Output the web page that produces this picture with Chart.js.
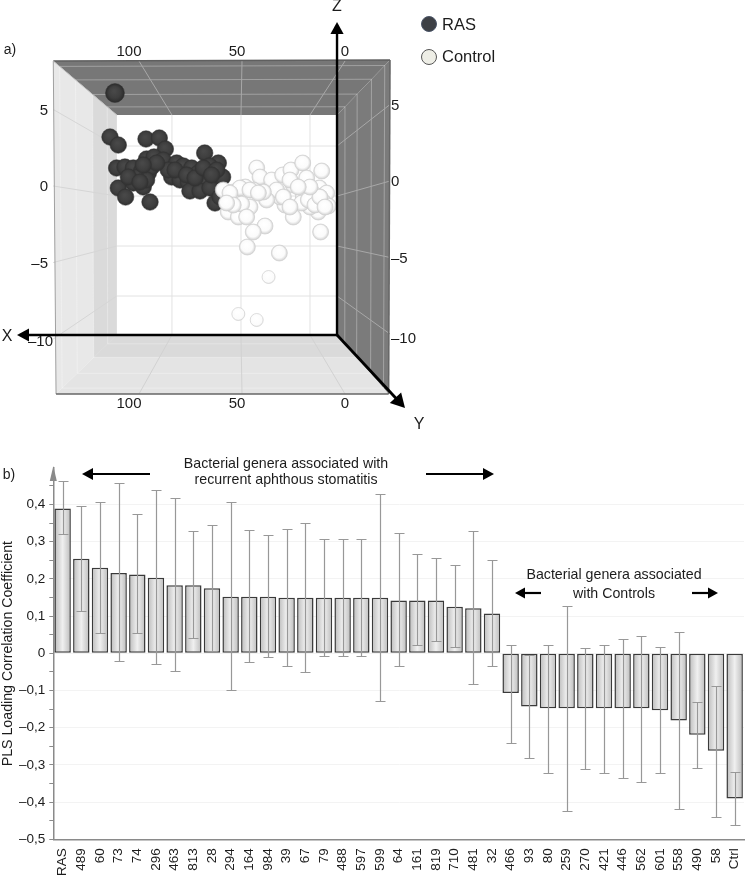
<!DOCTYPE html>
<html>
<head>
<meta charset="utf-8">
<script src="https://cdn.jsdelivr.net/npm/chart.js@4/dist/chart.umd.min.js"></script>
<style>
  html, body { margin: 0; padding: 0; background: #fff; overflow: hidden; }
  canvas { position: absolute; left: 0; }
  #scatter { top: 0; }
  #bars { top: 440px; }
</style>
</head>
<body>
<canvas id="scatter" width="745" height="440"></canvas>
<canvas id="bars" width="745" height="438"></canvas>
<script>
// a) score plot, values read against the back wall of the box
const rasX = [141.3, 144.9, 138.9, 118.8, 109.2, 104.8, 76.3, 66.4, 72.9, 140.1, 134.1, 128, 122, 117.1, 118.4, 113, 106.3, 96.6, 91.8, 85.7, 80.9, 77.3, 70, 63.3, 100.2, 94.2, 88.2, 82.1, 74.9, 128, 120.8, 138.9, 133.6, 115.9, 87, 79.7, 72.5, 68.8, 65.2, 124.4, 131.6, 114.7, 102.7, 97.8, 89.4, 83.3, 77.3, 67.6, 71.3, 118.4, 123.2, 111.1, 120.8];
const rasZ = [10.3, 5.9, 5.1, 5.7, 5.8, 4.7, 4.3, 3.3, 3, 2.8, 2.9, 2.8, 2.5, 2.3, 3.7, 3.9, 3.6, 3.3, 3, 2.8, 2.3, 1.9, 1.9, 1.9, 1.9, 1.6, 1.4, 1.3, 1.3, 1.3, 0.9, 0.8, -0.1, -0.6, 0.5, 0.5, 0.8, -0.7, -0.1, 1.9, 1.9, 2.9, 2.6, 2.6, 2.1, 1.8, 2.8, 2.6, 2.1, 1.6, 1.4, 3.3, 3.1];
const ctrlX = [38.6, 36.2, 27.8, 19.8, 13.8, 5.3, -8.5, 2.4, 12.1, -6.8, -12.1, -9.7, -13.3, -6, 0, 4.8, -3.6, 6, 12.1, -7.7, 18.1, 21.7, 24.2, 31.4, 33.8, 41.1, 46.9, 55.6, 62.8, 56.8, 59.2, 51.9, 43.5, 32.6, 41.1, 45.4, 22.2, 30, 51.9, 38.6, 50.7, 43.5, 37.4, 58, 49.5, 55.6, 60.4, 45.9, 14.5, 19.3, 14.5, 1.2, -3.6, -7.2, -10.9, 0, 8.5];
const ctrlZ = [2.8, 1.9, 1.6, 2.1, 2.6, 3.3, 2.5, 1.8, 1.1, 0.8, 0.3, -0.6, -1, -1.6, -1.1, -0.1, 0.1, -0.7, -2.1, -3.6, -0.9, -0.1, 0.6, -0.4, 0.4, 0.6, 0.9, 0.4, 0.6, -0.4, -1.6, -2.1, -1.1, -3, -3.6, -5.1, -5.7, -8.1, -11.8, -12.4, 0.8, 0.6, 0.3, 0.3, -0.8, -0.9, -0.7, -2.1, 1.6, -0.1, -1.1, -0.4, -0.9, -0.1, -1.1, 0.9, 0.9];
const xTicks = [0, 50, 100];
const zTicks = [5, 0, -5, -10];

// b) PLS loadings
const genera = ['RAS', '489', '60', '73', '74', '296', '463', '813', '28', '294', '164', '984', '39', '67', '79', '488', '597', '599', '64', '161', '819', '710', '481', '32', '466', '93', '80', '259', '270', '421', '446', '562', '601', '558', '490', '58', 'Ctrl'];
const loadings = [0.389, 0.254, 0.23, 0.216, 0.212, 0.203, 0.183, 0.183, 0.175, 0.152, 0.152, 0.152, 0.149, 0.149, 0.149, 0.149, 0.149, 0.149, 0.142, 0.142, 0.142, 0.125, 0.121, 0.107, -0.107, -0.143, -0.148, -0.148, -0.148, -0.148, -0.148, -0.148, -0.153, -0.181, -0.219, -0.262, -0.39];
const errHigh = [0.462, 0.397, 0.407, 0.458, 0.375, 0.44, 0.417, 0.329, 0.345, 0.406, 0.332, 0.318, 0.333, 0.35, 0.306, 0.306, 0.306, 0.427, 0.322, 0.268, 0.256, 0.236, 0.329, 0.252, 0.023, -0.004, 0.023, 0.126, 0.013, 0.023, 0.038, 0.047, 0.016, 0.056, -0.131, -0.088, -0.32];
const errLow = [0.321, 0.113, 0.055, -0.022, 0.054, -0.03, -0.048, 0.04, 0.007, -0.098, -0.024, -0.01, -0.033, -0.049, -0.006, -0.006, -0.006, -0.127, -0.034, 0.021, 0.032, 0.016, -0.082, -0.033, -0.24, -0.281, -0.321, -0.424, -0.312, -0.321, -0.335, -0.345, -0.323, -0.419, -0.308, -0.439, -0.462];

const FONT = '"Liberation Sans", Arial, sans-serif';
const fmt = (v) => String(Math.abs(v)).replace('.', ',');
const signed = (v) => (v < 0 ? '\u2013' : '') + fmt(v);

function arrow(ctx, x0, y0, x1, y1, color, w, head) {
  const a = Math.atan2(y1 - y0, x1 - x0);
  ctx.strokeStyle = color;
  ctx.fillStyle = color;
  ctx.lineWidth = w;
  ctx.beginPath();
  ctx.moveTo(x0, y0);
  ctx.lineTo(x1 - Math.cos(a) * head * 0.8, y1 - Math.sin(a) * head * 0.8);
  ctx.stroke();
  ctx.beginPath();
  ctx.moveTo(x1, y1);
  ctx.lineTo(x1 - Math.cos(a) * head - Math.sin(a) * head * 0.55, y1 - Math.sin(a) * head + Math.cos(a) * head * 0.55);
  ctx.lineTo(x1 - Math.cos(a) * head + Math.sin(a) * head * 0.55, y1 - Math.sin(a) * head - Math.cos(a) * head * 0.55);
  ctx.closePath();
  ctx.fill();
}

function label(ctx, text, x, y, size, align) {
  ctx.font = size + 'px ' + FONT;
  ctx.fillStyle = '#1c1c1c';
  ctx.textAlign = align || 'center';
  ctx.textBaseline = 'middle';
  ctx.fillText(text, x, y);
}

// box corners in the same units as the points
const backBox = { tl: [140, 8.1], tr: [-19.6, 8.1], br: [-19.6, -13.9], bl: [140, -13.9] };
const frontBox = { tl: [186, 13.5], tr: [-58, 13.6], br: [-57, -19.8], bl: [184, -19.8] };
const frontX = (x) => -25.4 + 1.493 * x;
const frontZ = (z) => 1 + 1.53 * z;

const boxPlugin = {
  id: 'box',
  beforeDatasetsDraw(chart) {
    const { ctx, scales } = chart;
    const px = (p) => [scales.x.getPixelForValue(p[0]), scales.y.getPixelForValue(p[1])];
    const lerpBox = (t, k) => [
      frontBox[k][0] + (backBox[k][0] - frontBox[k][0]) * t,
      frontBox[k][1] + (backBox[k][1] - frontBox[k][1]) * t,
    ];
    const poly = (pts, color) => {
      ctx.fillStyle = color;
      ctx.beginPath();
      pts.map(px).forEach((p, i) => (i ? ctx.lineTo(p[0], p[1]) : ctx.moveTo(p[0], p[1])));
      ctx.closePath();
      ctx.fill();
    };
    const seg = (a, b, color, w) => {
      const p = px(a);
      const q = px(b);
      ctx.strokeStyle = color;
      ctx.lineWidth = w || 1;
      ctx.beginPath();
      ctx.moveTo(p[0], p[1]);
      ctx.lineTo(q[0], q[1]);
      ctx.stroke();
    };
    ctx.save();
    poly([frontBox.tl, frontBox.tr, backBox.tr, backBox.tl], '#777777');
    poly([frontBox.tr, frontBox.br, backBox.br, backBox.tr], '#7b7b7b');
    poly([frontBox.tl, backBox.tl, backBox.bl, frontBox.bl], '#e8e8e8');
    poly([frontBox.bl, backBox.bl, backBox.br, frontBox.br], '#e4e4e4');
    // darker strip next to the back wall
    poly([lerpBox(0.62, 'tl'), backBox.tl, backBox.bl, lerpBox(0.62, 'bl')], '#dadada');
    poly([lerpBox(0.62, 'bl'), backBox.bl, backBox.br, lerpBox(0.62, 'br')], '#dadada');

    // depth rings on the walls
    [0.1, 0.35, 0.62, 0.85].forEach((t) => {
      const c = 'rgba(255,255,255,0.3)';
      seg(lerpBox(t, 'tl'), lerpBox(t, 'tr'), c);
      seg(lerpBox(t, 'tr'), lerpBox(t, 'br'), c);
      seg(lerpBox(t, 'br'), lerpBox(t, 'bl'), c);
      seg(lerpBox(t, 'bl'), lerpBox(t, 'tl'), c);
    });

    // grid on back wall and walls
    xTicks.forEach((x) => {
      seg([x, 8.1], [x, -13.9], '#e2e2e2');
      seg([x, 8.1], [frontX(x), 13.5], '#a8a8a8');
      seg([x, -13.9], [frontX(x), -19.8], '#d2d2d2');
    });
    zTicks.forEach((z) => {
      seg([140, z], [-19.6, z], '#e2e2e2');
      seg([140, z], [186, frontZ(z)], '#d6d6d6');
      seg([-19.6, z], [-58, frontZ(z) + 0.5], '#a8a8a8');
    });

    // frame edges
    seg(frontBox.tl, frontBox.tr, '#5f5f5f', 1.5);
    seg(frontBox.tl, frontBox.bl, '#a0a0a0', 1);
    seg(frontBox.bl, frontBox.br, '#666666', 1.5);
    seg(frontBox.tr, frontBox.br, '#666666', 1.5);
    seg(frontBox.tl, backBox.tl, '#bdbdbd', 1);
    ctx.restore();
  },
  afterDatasetsDraw(chart) {
    const { ctx, scales } = chart;
    const fx = (x) => scales.x.getPixelForValue(x);
    const fy = (z) => scales.y.getPixelForValue(z);
    ctx.save();
    const ox = fx(-19.6);
    const oy = fy(-13.9);
    arrow(ctx, ox, oy, ox, 22, '#000', 2.4, 12);
    arrow(ctx, ox, oy, 17, oy, '#000', 2.4, 12);
    arrow(ctx, ox, oy, 405, 408, '#000', 2.8, 14);
    label(ctx, 'Z', 337, 7, 16);
    label(ctx, 'X', 7, 337, 16);
    label(ctx, 'Y', 419, 425, 16);
    label(ctx, 'a)', 10, 50, 14);

    xTicks.forEach((x) => {
      const p = fx(frontX(x)) - x * 0.1;
      label(ctx, String(x), p, 52, 15);
      label(ctx, String(x), p, 404, 15);
    });
    zTicks.forEach((z) => {
      const v = fy(frontZ(z));
      const t = signed(z);
      label(ctx, t, z === -10 ? 53 : 48, z === -10 ? v + 3 : v + 1, 15, 'right');
      label(ctx, t, 391, z === -10 ? v : v - 4, 15, 'left');
    });

    // legend
    const dot = (y, fill, edge) => {
      ctx.beginPath();
      ctx.arc(429, y, 7.5, 0, Math.PI * 2);
      ctx.fillStyle = fill;
      ctx.fill();
      ctx.strokeStyle = edge;
      ctx.lineWidth = 1;
      ctx.stroke();
    };
    dot(24, '#3d4045', '#4b5568');
    dot(57, '#eeeee6', '#555555');
    label(ctx, 'RAS', 442, 25, 16.5, 'left');
    label(ctx, 'Control', 442, 57, 16.5, 'left');
    ctx.restore();
  },
};

function sphere(inner, mid, rim) {
  return (c) => {
    const el = c.element;
    if (!el || el.x === undefined || isNaN(el.x)) return mid;
    const r = 9;
    const g = c.chart.ctx.createRadialGradient(el.x - 1, el.y - 2, 1, el.x, el.y, r);
    g.addColorStop(0, inner);
    g.addColorStop(0.6, mid);
    g.addColorStop(1, rim);
    return g;
  };
}

new Chart(document.getElementById('scatter'), {
  type: 'scatter',
  plugins: [boxPlugin],
  data: {
    datasets: [
      {
        label: 'Control',
        data: ctrlX.map((x, i) => ({ x: x, y: ctrlZ[i] })),
        backgroundColor: sphere('#ffffff', '#fbfbfb', '#c4c4c4'),
        borderColor: '#cfcfcf',
        borderWidth: 0.7,
        pointRadius: (c) => (c.raw && c.raw.y < -7 ? 6.5 : 8),
      },
      {
        label: 'RAS',
        data: rasX.map((x, i) => ({ x: x, y: rasZ[i] })),
        backgroundColor: sphere('#484848', '#3e3e3e', '#2d2d2d'),
        borderColor: '#333333',
        borderWidth: 0.5,
        pointRadius: (c) => (c.raw && c.raw.y > 8 ? 9.5 : 8.3),
      },
    ],
  },
  options: {
    responsive: false,
    animation: false,
    layout: { padding: 0, autoPadding: false },
    plugins: { legend: { display: false }, tooltip: { enabled: false } },
    scales: {
      x: { type: 'linear', display: false, reverse: true, min: -315.2, max: 224.6 },
      y: { type: 'linear', display: false, min: -24.4, max: 19.6 },
    },
  },
});

const errorBars = {
  id: 'errorBars',
  afterDatasetsDraw(chart) {
    const { ctx, scales } = chart;
    ctx.save();
    ctx.strokeStyle = '#989898';
    ctx.lineWidth = 1.2;
    genera.forEach((g, i) => {
      const x = Math.round(scales.x.getPixelForValue(i)) + 0.5;
      const hi = Math.round(scales.y.getPixelForValue(errHigh[i])) + 0.5;
      const lo = Math.round(scales.y.getPixelForValue(errLow[i])) + 0.5;
      ctx.beginPath();
      ctx.moveTo(x, hi);
      ctx.lineTo(x, lo);
      ctx.moveTo(x - 5, hi);
      ctx.lineTo(x + 5, hi);
      ctx.moveTo(x - 5, lo);
      ctx.lineTo(x + 5, lo);
      ctx.stroke();
    });
    ctx.restore();
  },
};

const notes = {
  id: 'notes',
  afterDraw(chart) {
    const { ctx, chartArea } = chart;
    ctx.save();
    // axis arrow head
    ctx.fillStyle = '#8a8a8a';
    ctx.beginPath();
    ctx.moveTo(chartArea.left, 26);
    ctx.lineTo(chartArea.left - 3.5, 41);
    ctx.lineTo(chartArea.left + 3.5, 41);
    ctx.closePath();
    ctx.fill();

    label(ctx, 'b)', 9, 35, 14);
    label(ctx, 'Bacterial genera associated with', 286, 24, 14.2);
    label(ctx, 'recurrent aphthous stomatitis', 286, 40, 14.2);
    arrow(ctx, 150, 34, 82, 34, '#000', 2.2, 11);
    arrow(ctx, 426, 34, 494, 34, '#000', 2.2, 11);
    label(ctx, 'Bacterial genera associated', 614, 135, 14.2);
    label(ctx, 'with Controls', 614, 154, 14.2);
    arrow(ctx, 541, 153, 515, 153, '#000', 2.2, 10);
    arrow(ctx, 692, 153, 718, 153, '#000', 2.2, 10);
    ctx.restore();
  },
};

new Chart(document.getElementById('bars'), {
  type: 'bar',
  plugins: [errorBars, notes],
  data: {
    labels: genera,
    datasets: [{
      label: 'PLS Loading Correlation Coefficient',
      data: loadings,
      borderColor: '#3a3a3a',
      borderWidth: 1.5,
      borderSkipped: false,
      barPercentage: 0.88,
      categoryPercentage: 1,
      backgroundColor: (c) => {
        const { chartArea, scales } = c.chart;
        if (!chartArea) return '#dddddd';
        const x = scales.x.getPixelForValue(c.dataIndex);
        const g = c.chart.ctx.createLinearGradient(x - 8, 0, x + 8, 0);
        g.addColorStop(0, '#bdbdbd');
        g.addColorStop(0.5, '#f0f0f0');
        g.addColorStop(1, '#bdbdbd');
        return g;
      },
    }],
  },
  options: {
    responsive: false,
    animation: false,
    layout: { padding: { top: 28, right: 1, left: 0, bottom: 0 }, autoPadding: false },
    plugins: { legend: { display: false }, tooltip: { enabled: false } },
    scales: {
      x: {
        afterFit: (s) => {
          s.height = 38.7;
          s.paddingLeft = 0;
          s.paddingRight = 0;
        },
        grid: { display: false, drawTicks: true, tickLength: 4, tickColor: '#8a8a8a' },
        border: { color: '#8a8a8a', width: 1.5 },
        ticks: {
          autoSkip: false,
          maxRotation: 90,
          minRotation: 90,
          padding: 5,
          color: '#1c1c1c',
          font: { family: FONT, size: 13.5 },
        },
      },
      y: {
        min: -0.5,
        max: 0.498,
        afterFit: (s) => { s.width = 53.3; },
        title: {
          display: true,
          text: 'PLS Loading Correlation Coefficient',
          color: '#1c1c1c',
          font: { family: FONT, size: 14.2 },
          padding: { top: 0, bottom: 0 },
        },
        border: { color: '#8a8a8a', width: 1.5 },
        grid: {
          tickLength: 4,
          tickColor: '#8a8a8a',
          color: (c) => {
            const n = Math.round(c.tick.value * 100);
            return n % 10 === 0 && n !== -50 ? '#f3f3f3' : 'rgba(0,0,0,0)';
          },
        },
        ticks: {
          stepSize: 0.05,
          autoSkip: false,
          includeBounds: false,
          padding: 4,
          color: '#1c1c1c',
          font: { family: FONT, size: 13.5 },
          callback: (v) => {
            const n = Math.round(v * 100);
            return n % 10 === 0 ? signed(n / 100) : '';
          },
        },
      },
    },
  },
});
</script>
</body>
</html>
